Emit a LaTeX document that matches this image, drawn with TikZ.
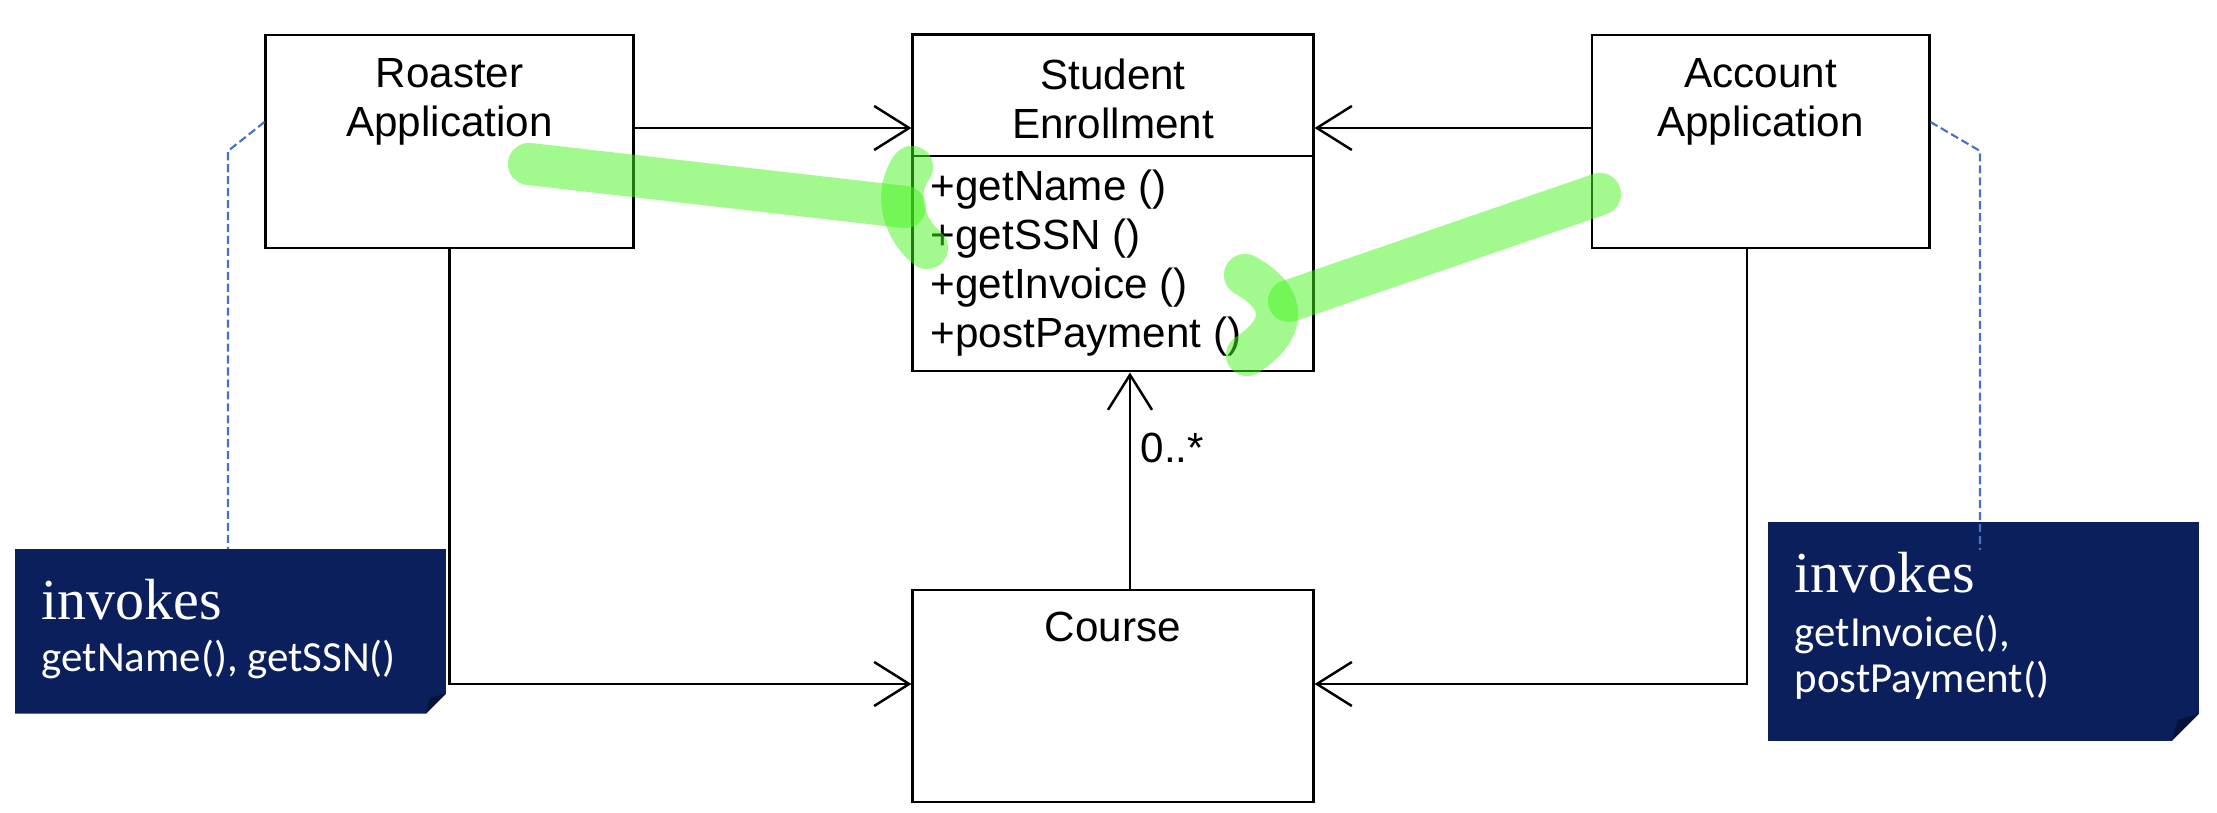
\documentclass[tikz,border=0pt]{standalone}
\usepackage{fontspec}
\setmainfont{Liberation Sans}
\newfontfamily\noteserif{Liberation Serif}
\newfontfamily\notesans{Carlito}
\usepackage{tikz}
\usetikzlibrary{positioning,calc,arrows.meta}
\usepackage{xcolor}
\definecolor{noteblue}{RGB}{12,31,93}
\definecolor{notefold}{RGB}{6,18,58}
\definecolor{leadblue}{RGB}{68,114,196}
\definecolor{marker}{RGB}{70,245,30}

\begin{document}
\begin{tikzpicture}[
    x=0.01cm, y=-0.01cm,
    cls/.style={draw, line width=0.8pt, inner sep=0pt},
    ttl/.style={font=\fontsize{12}{14}\selectfont, align=center, inner sep=0pt, anchor=north},
    ops/.style={font=\fontsize{12}{14}\selectfont, align=left, inner sep=0pt, anchor=north west},
    assoc/.style={-{Straight Barb[length=3.5mm, width=4.4mm]}, line width=0.7pt},
    lead/.style={leadblue, line width=0.6pt, dash pattern=on 2.3pt off 1.1pt},
    inv/.style={font=\noteserif\fontsize{16.5}{18}\selectfont, text=white, inner sep=0pt, anchor=base west},
    call/.style={font=\notesans\fontsize{12.2}{13}\selectfont, text=white, inner sep=0pt, anchor=base west},
    hl/.style={marker, opacity=0.5, line width=12pt, line cap=round},
]
\useasboundingbox (0,0) rectangle (2217,813);

% classes
\node[cls, minimum width=3.67cm, minimum height=2.13cm] (roaster) at (449.5,141.5) {};
\node[cls, minimum width=4cm, minimum height=3.36cm] (senr) at (1113,203) {};
\node[cls, minimum width=3.37cm, minimum height=2.13cm] (account) at (1760.5,141.5) {};
\node[cls, minimum width=4cm, minimum height=2.12cm] (course) at (1113,696) {};
\draw[line width=0.8pt] (senr.west |- 0,156) -- (senr.east |- 0,156);

\node[ttl] (roasterT) at (449.5,58) {Roaster\\Application};
\node[ttl] (senrT) at (1113,58) {Student\\Enrollment};
\node[ttl] (accountT) at (1760.5,58) {Account\\Application};
\node[ttl, anchor=base] (courseT) at (1113,642) {Course};
\node[ops] (senrOps) at (930,169) {+getName ()\\+getSSN ()\\+getInvoice ()\\+postPayment ()};

% associations
\coordinate (rowA) at (0,128);
\coordinate (rowB) at (0,684);
\coordinate (acol) at (1747,0);
\coordinate (ccol) at (1130,0);
\draw[assoc] (roaster.east |- rowA) -- (senr.west |- rowA);
\draw[assoc] (account.west |- rowA) -- (senr.east |- rowA);
\draw[assoc] (roaster.south) |- (course.west |- rowB);
\draw[assoc] (acol |- account.south) |- (course.east |- rowB);
\draw[assoc] (ccol |- course.north) -- (ccol |- senr.south);
\node[font=\fontsize{12}{14}\selectfont, anchor=base west, inner sep=0pt] (mult) at (1140,463) {0..*};

% notes
\node[minimum width=4.29cm, minimum height=1.63cm, inner sep=0pt] (lnote) at (230.5,631.5) {};
\node[minimum width=4.29cm, minimum height=2.17cm, inner sep=0pt] (rnote) at (1983.5,631.5) {};
\fill[noteblue] (lnote.north west) -- (lnote.north east) -- ($(lnote.south east)+(0,-20)$)
  -- ($(lnote.south east)+(-20,0)$) -- (lnote.south west) -- cycle;
\fill[notefold] ($(lnote.south east)+(0,-20)$) -- ($(lnote.south east)+(-20,0)$)
  -- ($(lnote.south east)+(-16,-16)$) -- cycle;
\fill[noteblue] (rnote.north west) -- (rnote.north east) -- ($(rnote.south east)+(0,-27)$)
  -- ($(rnote.south east)+(-27,0)$) -- (rnote.south west) -- cycle;
\fill[notefold] ($(rnote.south east)+(0,-27)$) -- ($(rnote.south east)+(-27,0)$)
  -- ($(rnote.south east)+(-21,-21)$) -- cycle;

\node[inv] (linv) at (41,620) {invokes};
\node[call] (lcall) at (41,672) {getName(), getSSN()};
\node[inv] (rinv) at (1794,593) {invokes};
\node[call] (rcallA) at (1794,647) {getInvoice(),};
\node[call] (rcallB) at (1794,693) {postPayment()};

\coordinate (lbend) at (228,151);
\coordinate (rbend) at (1980,151);
\draw[lead] (roaster.west |- 0,122) -- (lbend) -- (lbend |- lnote.north);
\draw[lead] (account.east |- 0,122) -- (rbend) -- (rbend |- 0,550);

% highlighter
\draw[hl] (529,164) -- (905,207);
\draw[hl] (912,167) .. controls (895,190) and (900,225) .. (927,248);
\draw[hl] (1600,194) -- (1289,301);
\draw[hl] (1245,275) .. controls (1290,300) and (1285,330) .. (1247,355);
\end{tikzpicture}
\end{document}
